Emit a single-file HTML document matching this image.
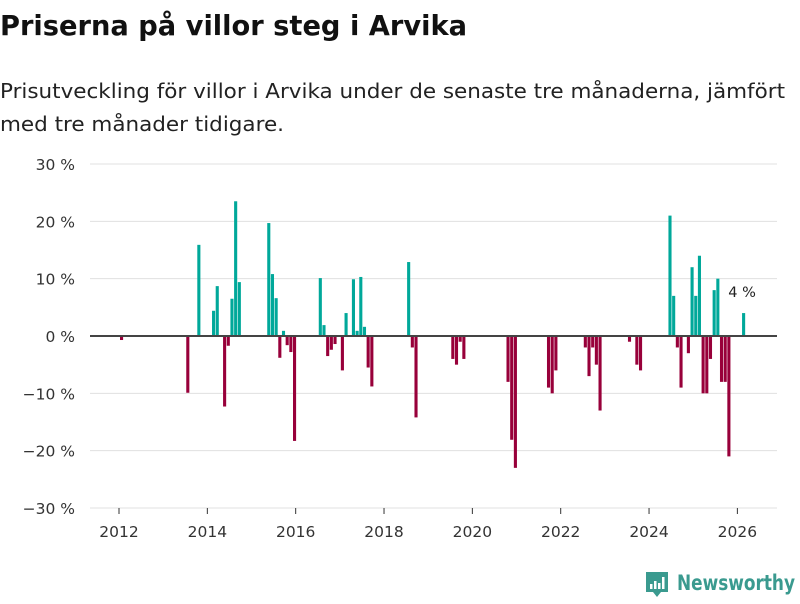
<!DOCTYPE html>
<html><head><meta charset="utf-8">
<style>
body{margin:0;width:800px;height:600px;background:#fff;overflow:hidden;font-family:"DejaVu Sans","Liberation Sans",sans-serif;}
</style></head>
<body>
<svg id="chart" width="800" height="600" xmlns="http://www.w3.org/2000/svg">
<text x="0" y="35" font-size="28" font-weight="bold" fill="#111" textLength="467" lengthAdjust="spacingAndGlyphs">Priserna på villor steg i Arvika</text>
<text x="0" y="98" font-size="20" fill="#222" textLength="785" lengthAdjust="spacingAndGlyphs">Prisutveckling för villor i Arvika under de senaste tre månaderna, jämfört</text>
<text x="0" y="131" font-size="20" fill="#222" textLength="284" lengthAdjust="spacingAndGlyphs">med tre månader tidigare.</text>
<g id="grid"></g><g id="bars"></g><g id="axes"></g>
<g>
<path d="M646 572 h22 v20 h-7 l-4 5 l-4 -5 h-7 z" fill="#3a9a8f"/>
<rect x="650" y="584" width="2.5" height="5" fill="#fff"/><rect x="654" y="581" width="2.5" height="8" fill="#fff"/><rect x="658" y="583" width="2.5" height="6" fill="#fff"/><rect x="662" y="577" width="2.5" height="12" fill="#fff"/>
<text x="677" y="590" font-size="21" fill="#3a9a8f" font-weight="bold" textLength="118" lengthAdjust="spacingAndGlyphs">Newsworthy</text>
</g>
</svg>
<script>
const months=["2012-01","2013-07","2013-10","2014-02","2014-03","2014-05","2014-06","2014-07","2014-08","2014-09","2015-05","2015-06","2015-07","2015-08","2015-09","2015-10","2015-11","2015-12","2016-07","2016-08","2016-09","2016-10","2016-11","2017-01","2017-02","2017-04","2017-05","2017-06","2017-07","2017-08","2017-09","2018-07","2018-08","2018-09","2019-07","2019-08","2019-09","2019-10","2020-10","2020-11","2020-12","2021-09","2021-10","2021-11","2022-07","2022-08","2022-09","2022-10","2022-11","2023-07","2023-09","2023-10","2024-06","2024-07","2024-08","2024-09","2024-11","2024-12","2025-01","2025-02","2025-03","2025-04","2025-05","2025-06","2025-07","2025-08","2025-09","2025-10","2026-02"];
const values=[-0.7,-9.9,15.9,4.4,8.7,-12.3,-1.7,6.5,23.5,9.4,19.7,10.8,6.6,-3.8,0.9,-1.6,-2.8,-18.3,10.1,1.9,-3.5,-2.4,-1.4,-6,4,9.9,0.9,10.3,1.6,-5.5,-8.8,12.9,-2,-14.2,-4,-5,-1,-4,-8,-18.1,-23,-9,-10,-6,-2,-7,-2,-5,-13,-1,-5,-6,21,7,-2,-9,-3,12,7,14,-10,-10,-4,8,10,-8,-8,-21,4];
const yTicks=[30,20,10,0,-10,-20,-30];
const xTicks=[2012,2014,2016,2018,2020,2022,2024,2026];
const NS="http://www.w3.org/2000/svg";
const y=v=>336-v*5.733;
const x=t=>119+(t-2012)*44.17;
const grid=document.getElementById('grid'),bars=document.getElementById('bars'),axes=document.getElementById('axes');
function mk(tag,attrs,parent){const e=document.createElementNS(NS,tag);for(const k in attrs)e.setAttribute(k,attrs[k]);parent.appendChild(e);return e;}
yTicks.forEach(v=>{
 if(v!==0){const l=mk('line',{x1:90,x2:777,y1:y(v),y2:y(v),stroke:'#e0e0e0','stroke-width':1},grid);
 
 }
 const t=mk('text',{x:75,y:y(v)+6,'text-anchor':'end','font-size':15.5,fill:'#333'},axes);
 t.textContent=(v<0?'\u2212'+(-v):v)+' %';
 
 
});
xTicks.forEach(yr=>{
 const l=mk('line',{x1:x(yr),x2:x(yr),y1:508,y2:514,stroke:'#333','stroke-width':1},axes);
 
 
 const t=mk('text',{x:x(yr),y:537,'text-anchor':'middle','font-size':15.5,fill:'#333'},axes);
 t.textContent=yr;
 
 
});
months.forEach((m,i)=>{
 const [yy,mm]=m.split('-').map(Number);
 const t=yy+(mm-1)/12;const v=values[i];
 const r=mk('rect',{x:x(t)+1,width:3.1,y:Math.min(y(v),y(0)),height:Math.abs(y(v)-y(0)),fill:v>=0?'#00a89a':'#98003a'},bars);
 
 
});
const z=mk('line',{x1:90,x2:777,y1:y(0),y2:y(0),stroke:'#444','stroke-width':2},axes);


const lastM=months[months.length-1].split('-').map(Number);
const lab=mk('text',{x:x(lastM[0]+(lastM[1]-1)/12)+1,y:y(values[values.length-1])-16,'text-anchor':'middle','font-size':14.5,fill:'#222'},axes);
lab.textContent=values[values.length-1]+' %';


</script>
</body></html>
